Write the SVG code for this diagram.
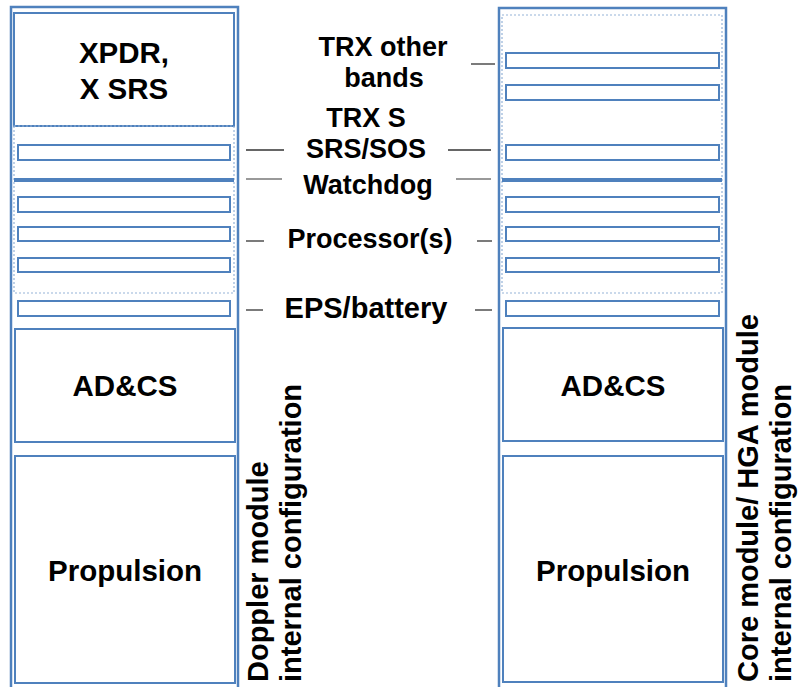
<svg xmlns="http://www.w3.org/2000/svg" width="798" height="687" viewBox="0 0 798 687">
<style>
.outer{fill:#fff;stroke:#4f81bd;stroke-width:2.5}
.box{fill:#fff;stroke:#4f81bd;stroke-width:2}
.bar{fill:#fff;stroke:#4f81bd;stroke-width:2}
.dot{fill:none;stroke:#95b3d7;stroke-width:1.2;stroke-dasharray:2 2}
.thick{stroke:#4f81bd;stroke-width:4}
.lead{stroke:#333;stroke-width:1.3}
.leadg{stroke:#777;stroke-width:1.5}
text{font-family:"Liberation Sans",Arial,sans-serif;font-weight:bold;fill:#000}
.big{font-size:29.5px;text-anchor:middle}
.mid{font-size:27px;text-anchor:middle}
.vert{font-size:29px}
</style>
<rect width="798" height="687" fill="#fff"/>
<g id="doppler-module">
<rect class="outer" x="11" y="7" width="227" height="690"/>
<g id="left-xpdr"><rect class="box" x="14" y="13" width="220" height="113"/>
<text class="big" x="124" y="63">XPDR,</text><text class="big" x="124" y="99">X SRS</text></g>
<rect class="dot" x="14" y="126" width="220" height="167"/>
<rect class="bar" x="18" y="145" width="212" height="15"/>
<line class="thick" x1="14" y1="180" x2="234" y2="180"/>
<rect class="bar" x="18" y="197" width="212" height="15"/>
<rect class="bar" x="18" y="227" width="212" height="14"/>
<rect class="bar" x="18" y="258" width="212" height="14"/>
<rect class="bar" x="18" y="301" width="212" height="15"/>
<g id="left-adcs"><rect class="box" x="15" y="329" width="220" height="113"/>
<text class="big" x="125" y="396">AD&amp;CS</text></g>
<g id="left-propulsion"><rect class="box" x="15" y="456" width="220" height="227"/>
<text class="big" x="125" y="581">Propulsion</text></g>
<text class="vert" transform="translate(268,682) rotate(-90)">Doppler module</text>
<text class="vert" transform="translate(301,682) rotate(-90)">internal configuration</text>
</g>
<g id="core-module">
<rect class="outer" x="499" y="8" width="227" height="690"/>
<rect class="dot" x="502" y="15" width="220" height="278"/>
<rect class="bar" x="506" y="53" width="213" height="15"/>
<rect class="bar" x="506" y="85" width="213" height="15"/>
<rect class="bar" x="506" y="145" width="213" height="15"/>
<line class="thick" x1="502" y1="180" x2="722" y2="180"/>
<rect class="bar" x="506" y="197" width="213" height="15"/>
<rect class="bar" x="506" y="227" width="213" height="14"/>
<rect class="bar" x="506" y="258" width="213" height="14"/>
<rect class="bar" x="506" y="301" width="213" height="15"/>
<g id="right-adcs"><rect class="box" x="503" y="328" width="220" height="113"/>
<text class="big" x="613" y="396">AD&amp;CS</text></g>
<g id="right-propulsion"><rect class="box" x="503" y="456" width="220" height="226"/>
<text class="big" x="613" y="581">Propulsion</text></g>
<text class="vert" transform="translate(758,682) rotate(-90)">Core module/ HGA module</text>
<text class="vert" transform="translate(791,682) rotate(-90)">internal configuration</text>
</g>
<g id="labels">
<text class="mid" x="383" y="56">TRX other</text>
<text class="mid" x="384" y="87">bands</text>
<text class="mid" x="366" y="127">TRX S</text>
<text class="mid" x="366" y="158">SRS/SOS</text>
<text class="mid" x="368" y="194">Watchdog</text>
<text class="mid" x="370" y="248">Processor(s)</text>
<text class="mid" x="366" y="318" style="font-size:29px">EPS/battery</text>
</g>
<g id="connectors">
<line class="lead" x1="471" y1="64" x2="495" y2="64"/>
<line class="lead" x1="246" y1="150" x2="284" y2="150"/>
<line class="lead" x1="448" y1="150" x2="491" y2="150"/>
<line class="leadg" x1="246" y1="179" x2="282" y2="179"/>
<line class="leadg" x1="456" y1="179" x2="491" y2="179"/>
<line class="lead" x1="246" y1="241" x2="264" y2="241"/>
<line class="lead" x1="477" y1="241" x2="492" y2="241"/>
<line class="lead" x1="246" y1="310" x2="263" y2="310"/>
<line class="lead" x1="475" y1="310" x2="492" y2="310"/>
</g>
</svg>
